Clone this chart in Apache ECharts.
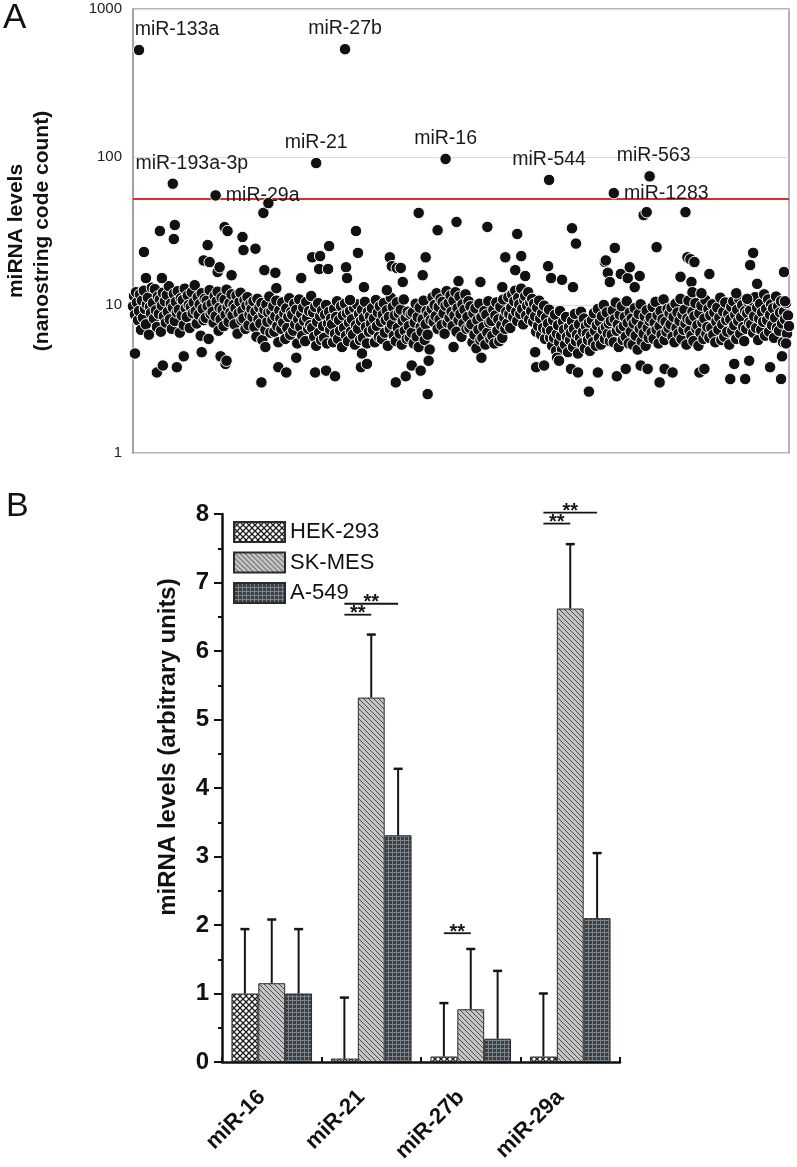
<!DOCTYPE html>
<html><head><meta charset="utf-8">
<script src="https://cdn.jsdelivr.net/npm/echarts@6/dist/echarts.min.js"></script>
<style>html,body{margin:0;padding:0;background:#fff}#chart{width:797px;height:1167px}</style>
</head><body><div id="chart"></div>
<script>
// ---------------- Panel A data (nanostring code counts, probe order) ----------------
const thresholdCount = 52;
const bandCounts = [
9.8,11.5,8.6,12.2,10.4,7.9,9.1,11.8,6.8,10.7,8.2,12.5,9.4,7.4,10.1,11.2,6.3,9.7,8.8,13.1,
10.3,8.1,12.8,9.2,7.1,11.4,8.7,10.9,6.6,9.9,12.1,8.4,10.6,7.6,11.7,9.0,13.4,8.0,10.2,6.9,
9.6,11.9,7.8,10.5,8.9,12.4,9.3,6.5,11.1,8.5,10.8,7.3,12.9,9.5,8.3,11.6,10.0,7.0,9.7,12.2,
8.8,10.4,13.6,9.1,7.5,11.3,8.6,10.1,6.2,12.0,9.4,7.9,11.0,8.2,10.7,9.8,5.9,12.6,8.7,10.2,
9.0,7.6,11.5,8.4,10.6,12.3,6.7,9.6,8.0,11.2,9.3,7.2,10.9,8.6,12.7,9.7,7.7,10.3,8.9,11.8,
8.5,10.0,7.4,9.5,11.6,6.4,8.8,10.5,12.1,7.9,9.2,8.1,10.8,6.9,9.9,11.3,7.3,8.6,10.2,9.4,
8.3,10.6,7.1,9.0,6.1,11.0,8.0,9.6,7.5,10.3,5.8,8.7,9.3,6.8,10.1,7.7,8.9,11.4,6.5,9.1,
7.9,9.8,6.6,8.4,10.7,7.2,5.6,9.2,8.1,6.9,10.4,7.6,8.8,5.9,9.5,7.0,8.3,11.1,6.3,9.0,
8.6,6.7,10.2,7.4,9.3,5.5,8.0,10.9,7.1,8.7,6.2,9.6,7.8,5.7,10.5,8.2,6.9,9.1,7.3,11.5,
7.0,8.9,6.1,9.7,5.3,7.7,10.3,6.5,8.4,5.8,9.2,7.2,6.0,8.6,10.0,5.5,7.5,9.0,6.8,8.1,
7.4,5.6,9.4,6.4,8.3,10.6,5.9,7.9,6.7,9.8,5.2,8.5,7.0,10.2,6.2,8.8,5.7,7.6,9.1,6.6,
8.0,6.3,9.6,5.4,7.3,10.1,6.9,8.7,5.8,7.8,9.3,6.0,8.2,10.5,7.1,5.5,9.0,6.6,8.4,7.5,
9.5,6.8,8.1,5.6,10.8,7.2,8.9,6.1,9.8,7.7,5.9,8.6,10.3,6.5,7.9,9.2,5.3,8.3,6.9,11.2,
7.4,9.7,6.2,8.5,5.7,10.4,7.0,8.8,6.4,9.3,5.4,7.8,10.9,6.7,8.2,5.9,9.0,7.2,6.0,8.7,
6.5,8.9,5.5,7.6,10.2,6.1,8.3,5.2,9.6,7.1,6.6,8.0,10.7,5.8,7.4,9.1,6.3,8.6,5.0,7.9,
9.4,11.3,7.7,10.0,8.4,12.0,6.9,9.7,8.0,11.0,7.3,10.5,8.8,6.4,9.9,12.4,7.6,10.3,8.2,11.6,
9.0,7.2,10.7,8.5,12.2,6.6,9.5,7.9,11.4,8.7,6.1,10.1,7.5,9.3,11.8,6.9,8.3,10.6,7.0,9.8,
7.4,5.6,8.8,6.3,9.5,5.1,7.9,6.8,10.2,5.8,8.3,6.0,7.1,9.1,5.4,8.6,6.5,10.6,7.6,5.9,
7.8,6.2,9.3,5.5,8.5,10.4,6.7,8.0,5.7,9.7,7.3,6.0,10.9,8.2,6.9,9.0,7.5,11.3,8.7,7.0,
9.6,11.8,8.3,10.6,12.5,9.0,7.8,11.2,10.1,8.7,12.9,9.4,7.4,10.8,11.5,8.5,9.9,12.2,8.0,10.4,
9.1,11.0,7.7,10.2,8.4,6.6,9.6,7.2,10.7,8.1,6.3,8.8,7.0,9.9,5.9,8.2,6.8,7.5,9.3,6.0,
6.7,5.3,7.9,6.0,8.6,4.9,6.4,7.3,5.6,9.1,6.2,5.0,7.7,6.8,5.4,8.3,6.1,4.8,7.1,5.8,
6.5,7.8,5.2,6.9,8.7,5.7,6.3,4.7,7.4,6.0,9.0,5.5,6.6,8.1,5.1,7.2,6.4,5.8,7.6,4.9,
6.2,7.9,5.6,8.8,6.7,5.3,7.3,9.4,6.0,7.7,5.4,8.4,6.8,10.0,5.9,7.1,8.9,6.4,7.5,5.7,
7.8,6.3,9.2,5.6,8.0,10.4,6.7,7.4,5.2,8.6,6.9,9.8,5.8,7.2,8.3,6.1,10.6,7.6,5.5,8.9,
6.6,8.1,5.4,7.5,9.5,6.2,7.9,5.0,8.7,6.9,10.1,5.7,7.3,6.4,8.4,5.3,9.2,7.0,6.0,7.8,
8.2,6.5,9.7,5.9,7.6,10.5,6.8,8.5,5.5,7.2,9.1,6.3,8.0,10.9,5.8,7.7,6.6,9.4,7.0,8.8,
7.4,9.6,6.1,8.3,5.6,10.2,7.0,8.9,6.4,7.8,11.0,5.9,8.6,6.8,9.3,7.5,5.4,8.1,10.7,6.7,
7.9,6.2,9.0,5.7,8.4,10.3,6.9,7.3,5.3,8.8,6.5,9.9,7.6,5.9,8.1,10.8,6.4,7.1,9.4,6.0,
8.5,7.0,10.1,6.3,8.9,5.6,7.7,9.6,6.8,8.2,11.2,5.8,7.4,9.0,6.1,10.4,7.9,6.6,8.7,5.4,
8.0,9.7,6.7,10.6,7.3,8.6,5.9,9.3,7.8,11.0,6.4,8.3,10.0,7.1,5.7,9.1,6.9,8.8,10.5,7.6,
9.2,7.4,10.7,6.5,8.4,11.3,7.0,9.6,5.8,8.1,10.2,6.8,8.9,7.7,11.8,6.2,9.4,7.9,10.9,6.6,
8.6,10.1,7.3,9.5,6.0,8.2,11.4,7.0,9.8,6.7,8.9,10.6,7.5,5.6,9.0,8.0,10.3,6.4,8.5,7.2
];
// [probe position, count] for probes above the main band
const highCounts = [[11,22.8],[13,15.2],[27,31.6],[29,15.2],[41,27.9],[42,34.7],[71,20],[75,25.4],[77,19.5],[85,16.7],[87,18],[92,33.6],[95,31.6],[99,15.9],[110,28.8],[111,23.5],[123,24],[131,41.9],[132,17.2],[136,48.8],[143,16.5],[144,13],[169,15.2],[180,21],[187,17.5],[188,21.4],[196,17.5],[197,25],[214,18],[215,15.2],[218,10.8],[224,31.6],[226,22.5],[232,13.2],[255,12.6],[258,21],[260,18.3],[265,17.8],[269,17.8],[271,14.3],[287,41.9],[291,15.9],[294,21],[306,32],[325,36.4],[327,14.5],[349,14.3],[356,33.7],[371,13.2],[374,21],[384,17.2],[386,30.2],[390,21.4],[394,15.7],[417,18.3],[420,15.2],[431,14.8],[441,33],[442,13.2],[445,26],[474,19.5],[475,20],[477,16.5],[479,14.3],[484,24.3],[490,16.2],[497,15.2],[499,18],[504,13.2],[509,15.7],[513,40.5],[516,42.4],[526,24.6],[550,15.5],[555,42.4],[557,21],[560,20.4],[561,14.3],[562,12.2],[564,19.5],[571,12],[579,16.2],[606,12],[617,11],[620,18.6],[623,22.5],[627,13.9],[654,16.7],[655,10.6]];
// [probe position, count] for probes below the main band
const lowCounts = [[2,4.7],[24,3.5],[30,3.9],[44,3.8],[51,4.5],[69,4.8],[88,4.5],[93,4.0],[94,4.2],[129,3.0],[133,5.2],[146,3.8],[154,3.5],[164,4.4],[183,3.5],[194,3.6],[203,3.3],[229,3.8],[230,4.7],[235,4.0],[264,3.0],[274,3.3],[280,3.9],[289,3.6],[296,2.5],[297,4.2],[322,5.2],[350,4.4],[404,4.8],[405,3.8],[413,3.9],[426,4.4],[428,4.2],[440,3.7],[447,3.5],[458,2.6],[467,3.5],[486,3.3],[495,3.7],[510,3.9],[517,3.7],[529,3.0],[534,3.7],[542,3.5],[569,3.5],[574,3.7],[600,3.16],[604,4.0],[615,3.16],[619,4.2],[640,3.8],[651,3.16],[652,4.5],[656,5.5]];
const labeledMirs = ['miR-133a','miR-27b','miR-21','miR-193a-3p','miR-29a','miR-16','miR-544','miR-563','miR-1283'];
const labeledIdx = [6, 213, 184, 40, 83, 314, 418, 519, 483];
const labeledCounts = [528, 535, 91, 66, 55, 97, 70, 74, 57];

// ---------------- Panel B data ----------------
const mirnaCats = ['miR-16','miR-21','miR-27b','miR-29a'];
const cellLines = ['HEK-293','SK-MES','A-549'];
const hekMean = [1.0, 0.05, 0.08, 0.08];
const skmesMean = [1.15, 5.32, 0.77, 6.62];
const a549Mean = [1.0, 3.31, 0.34, 2.1];
const hekUpper = [1.94, 0.94, 0.86, 1.0];
const skmesUpper = [2.08, 6.24, 1.65, 7.56];
const a549Upper = [1.94, 4.28, 1.33, 3.05];
// [category, from cell line, to cell line, bracket level]
const sigPairs = [[1,0,1,6.53],[1,0,2,6.69],[2,0,1,1.88],[3,0,1,7.86],[3,0,2,8.02]];

// ---------------- styles ----------------
const FONT = '"Liberation Sans", Arial, Helvetica, sans-serif';
const labelStyle = {
  'miR-133a': {position:'top', offset:[38,0]},
  'miR-193a-3p': {position:'top', offset:[19,0]},
  'miR-29a': {position:'right'},
  'miR-1283': {position:'right'},
  'miR-563': {position:'top', offset:[4,0]}
};
const BAR_GAP_RATIO = 0.19;

function pattern(kind) {
  const c = document.createElement('canvas');
  const ctx = c.getContext('2d');
  if (kind === 'hek') {
    c.width = c.height = 6;
    ctx.fillStyle = '#ffffff'; ctx.fillRect(0,0,6,6);
    ctx.strokeStyle = '#1e1e1e'; ctx.lineWidth = 1.3;
    ctx.beginPath();
    ctx.moveTo(0,0); ctx.lineTo(6,6);
    ctx.moveTo(6,0); ctx.lineTo(0,6);
    ctx.stroke();
  } else if (kind === 'sk') {
    c.width = c.height = 5;
    ctx.fillStyle = '#c4c4c4'; ctx.fillRect(0,0,5,5);
    ctx.strokeStyle = '#4a4a4a'; ctx.lineWidth = 1;
    ctx.beginPath();
    ctx.moveTo(-1,-1); ctx.lineTo(6,6);
    ctx.moveTo(-1,4); ctx.lineTo(1,6);
    ctx.moveTo(4,-1); ctx.lineTo(6,1);
    ctx.stroke();
  } else {
    c.width = c.height = 4;
    ctx.fillStyle = '#3a3f45'; ctx.fillRect(0,0,4,4);
    ctx.fillStyle = '#7d838a';
    ctx.fillRect(0,0,4,1); ctx.fillRect(0,0,1,4);
  }
  return {image: c, repeat: 'repeat'};
}

const dotStyle = {color:'#111111', borderColor:'#ffffff', borderWidth:1, opacity:1};
const DOT = 11.5;

const barMeans = [hekMean, skmesMean, a549Mean];
const barUppers = [hekUpper, skmesUpper, a549Upper];
const patterns = [pattern('hek'), pattern('sk'), pattern('a549')];

const errData = [];
for (let s = 0; s < 3; s++) for (let c = 0; c < mirnaCats.length; c++) errData.push([c, s, barMeans[s][c], barUppers[s][c]]);

function barX(api, cat, s, val) {
  const p = api.coord([cat, val]);
  const band = api.size([1, 0])[0];
  const bw = band * (1 - BAR_GAP_RATIO) / 3;
  return [p[0] + (s - 1) * bw, p[1]];
}

const chart = echarts.init(document.getElementById('chart'), null, {renderer:'canvas'});
const option = {
  animation: false,
  backgroundColor: '#fff',
  textStyle: {fontFamily: FONT},
  graphic: [
    {type:'text', left:3, top:1, style:{text:'A', font:'35px ' + FONT, fill:'#111'}},
    {type:'text', left:6, top:490, style:{text:'B', font:'34px ' + FONT, fill:'#111'}}
  ],
  grid: [
    {left:133, top:9, width:656, height:444, show:true, borderColor:'#9c9c9c', borderWidth:1.5,
     backgroundColor:'transparent', containLabel:false, outerBoundsMode:'none'},
    {left:222, top:514, width:398, height:548, containLabel:false, outerBoundsMode:'none'}
  ],
  legend: {
    data: cellLines, orient:'vertical', left:228, top:516,
    itemWidth:51, itemHeight:20, itemGap:8.5, icon:'rect',
    textStyle:{fontSize:22, color:'#111', fontFamily:FONT}
  },
  xAxis: [
    {gridIndex:0, type:'value', min:0, max:659, show:true,
     axisLine:{show:false}, axisTick:{show:false}, axisLabel:{show:false}, splitLine:{show:false}},
    {gridIndex:1, type:'category', data:mirnaCats,
     axisLine:{lineStyle:{color:'#111', width:2.5}},
     axisTick:{show:true, inside:true, length:5, lineStyle:{color:'#111', width:2}},
     axisLabel:{rotate:45, fontSize:22, fontWeight:'bold', color:'#111', margin:22, padding:[0,14,0,0], fontFamily:FONT}},
    {gridIndex:1, type:'category', data:mirnaCats, position:'bottom',
     axisLine:{show:false}, axisLabel:{show:false},
     axisTick:{show:true, inside:true, alignWithLabel:true, length:5, lineStyle:{color:'#111', width:2}}}
  ],
  yAxis: [
    {gridIndex:0, type:'log', logBase:10, min:1, max:1000,
     name:'miRNA levels\n(nanostring code count)', nameLocation:'middle', nameGap:78,
     nameTextStyle:{fontSize:21, fontWeight:'bold', color:'#111', lineHeight:26, fontFamily:FONT},
     axisLine:{show:true, lineStyle:{color:'#9c9c9c', width:1.5}},
     axisTick:{show:false},
     axisLabel:{fontSize:15, color:'#222', margin:11, fontFamily:FONT, formatter:(v) => String(Math.round(v))},
     splitLine:{show:true, lineStyle:{color:'#dadada', width:1}}},
    {gridIndex:1, type:'value', min:0, max:8, interval:1,
     name:'miRNA levels (arbitrary units)', nameLocation:'middle', nameGap:42,
     nameTextStyle:{fontSize:24, fontWeight:'bold', color:'#111', fontFamily:FONT, padding:[0,0,0,82]},
     axisLine:{show:true, lineStyle:{color:'#111', width:2.5}},
     axisTick:{show:true, length:8, lineStyle:{color:'#111', width:2}},
     minorTick:{show:true, splitNumber:2, length:4, lineStyle:{color:'#111', width:2}},
     axisLabel:{fontSize:24, fontWeight:'bold', color:'#111', margin:13, fontFamily:FONT},
     splitLine:{show:false}}
  ],
  series: [
    {type:'scatter', name:'band', xAxisIndex:0, yAxisIndex:0, clip:false, z:2,
     symbolSize:DOT, itemStyle:dotStyle,
     data: bandCounts.map((v, i) => [i, v]),
     markLine:{silent:true, symbol:'none', label:{show:false}, z:3,
       lineStyle:{color:'#dd2d27', width:2, type:'solid', opacity:1}, data:[{yAxis:thresholdCount}]}},
    {type:'scatter', name:'high', xAxisIndex:0, yAxisIndex:0, clip:false, z:4,
     symbolSize:DOT, itemStyle:dotStyle, data: highCounts},
    {type:'scatter', name:'low', xAxisIndex:0, yAxisIndex:0, clip:false, z:4,
     symbolSize:DOT, itemStyle:dotStyle, data: lowCounts},
    {type:'scatter', name:'labeled', xAxisIndex:0, yAxisIndex:0, clip:false, z:5,
     symbolSize:DOT, itemStyle:dotStyle,
     data: labeledMirs.map((n, k) => {
       const ls = labelStyle[n] || {position:'top'};
       return {name:n, value:[labeledIdx[k], labeledCounts[k]],
         label:{show:true, formatter:n, position:ls.position, offset:ls.offset || [0,0], distance:4,
           fontSize:19.5, color:'#1a1a1a', fontFamily:FONT}};
     })},
    ...cellLines.map((cl, s) => ({
      type:'bar', name:cl, xAxisIndex:1, yAxisIndex:1,
      barGap:'0%', barCategoryGap:(BAR_GAP_RATIO*100)+'%', z:2,
      itemStyle:{color:patterns[s], borderColor:'#2a2a2a', borderWidth:1, opacity:1},
      data: barMeans[s]
    })),
    {type:'custom', name:'err', xAxisIndex:1, yAxisIndex:1, z:3, clip:false,
     encode:{x:0, y:[2,3]}, data: errData,
     renderItem(params, api) {
       const c = api.value(0), s = api.value(1);
       const b = barX(api, c, s, api.value(2));
       const t = barX(api, c, s, api.value(3));
       return {type:'group', children:[
         {type:'line', shape:{x1:b[0], y1:b[1], x2:t[0], y2:t[1]}, style:{stroke:'#151515', lineWidth:2}},
         {type:'line', shape:{x1:t[0]-4.5, y1:t[1], x2:t[0]+4.5, y2:t[1]}, style:{stroke:'#151515', lineWidth:2.5}}
       ]};
     }},
    {type:'custom', name:'sig', xAxisIndex:1, yAxisIndex:1, z:3, clip:false,
     encode:{x:0, y:3}, data: sigPairs,
     renderItem(params, api) {
       const c = api.value(0), lv = api.value(3);
       const a = barX(api, c, api.value(1), lv);
       const b = barX(api, c, api.value(2), lv);
       return {type:'group', children:[
         {type:'line', shape:{x1:a[0], y1:a[1], x2:b[0], y2:b[1]}, style:{stroke:'#151515', lineWidth:1.8}},
         {type:'text', x:(a[0]+b[0])/2, y:a[1]-1,
          style:{text:'**', font:'bold 20px ' + FONT, fill:'#151515', align:'center', verticalAlign:'middle'}}
       ]};
     }}
  ]
};
chart.setOption(option);
</script></body></html>
